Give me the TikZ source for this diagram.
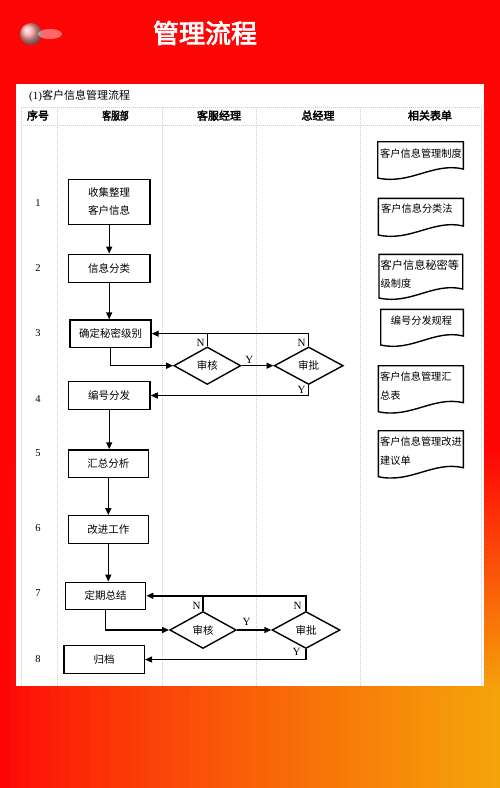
\documentclass[tikz,border=0pt]{standalone}
\usepackage{fontspec}
\setmainfont{Liberation Serif}
\newfontfamily\cjk{Noto Sans CJK SC}
\newfontfamily\cjkb[FakeBold=3]{Noto Sans CJK SC}
\usetikzlibrary{arrows.meta,shapes.geometric,calc}
\definecolor{bgred}{RGB}{254,6,6}
\definecolor{bgorange}{RGB}{245,163,10}
\definecolor{gridc}{RGB}{205,205,205}
\newcommand\mydoc[4]{%
  \draw[docline] (#1,#2) -- (#3,#2) -- (#3,#4-9)
    .. controls ({#3-0.35*(#3-#1)},#4-16) and ({#1+0.38*(#3-#1)},#4+7) .. (#1,#4) -- cycle;}
\begin{document}
\begin{tikzpicture}[x=1pt,y=-1pt,
  box/.style={draw, line width=1.4pt, inner sep=0pt, align=center, font=\cjk\fontsize{10.5}{18}\selectfont},
  dec/.style={draw, diamond, aspect=2, line width=1.4pt, inner sep=0pt, font=\cjk\fontsize{10.5}{13}\selectfont},
  conn/.style={line width=1.4pt},
  arr/.style={conn, -{Triangle[length=7pt,width=6pt]}},
  lbl/.style={inner sep=0pt, font=\fontsize{11}{12}\selectfont},
  gridl/.style={gridc, line width=0.6pt, dash pattern=on 1pt off 1pt},
  docline/.style={line width=1.4pt},
  doctext/.style={anchor=west, inner sep=0pt, font=\cjk\fontsize{10.2}{12}\selectfont},
  hdr/.style={inner sep=0pt, font=\cjkb\fontsize{11}{12}\selectfont},
  num/.style={inner sep=0pt, font=\fontsize{10.5}{12}\selectfont}]
\useasboundingbox (0,0) rectangle (500,788);
% background
\fill[bgred] (0,0) rectangle (500,788);
\foreach \i in {0,...,49} {
  \pgfmathsetmacro\p{100*(\i/49)^0.8}
  \colorlet{colc}{bgorange!\p!bgred}
  \shade[top color=bgred, bottom color=colc] (\i*10,450) rectangle ++(10.4,241);
  \fill[colc] (\i*10,690) rectangle ++(10.4,98);
}
% logo blob
\shade[ball color=red!35!white] (31,34) circle (11);
\fill[white, opacity=0.4] (50,34) ellipse (12 and 5);
% title
\node[text=white, font=\cjkb\fontsize{26}{30}\selectfont] (title) at (205,33) {管理流程};
% panel
\fill[white] (16,84) rectangle (484,686);
\node[anchor=west, inner sep=0pt, font=\fontsize{11}{13}\selectfont] (cap) at (29,96) {(1)\cjk 客户信息管理流程};
% grid
\draw[gridl] (21,107) -- (481,107);
\draw[gridl] (21,125) -- (481,125);
\foreach \gx in {21,57.5,162.5,256.5,360,481} \draw[gridl] (\gx,107) -- (\gx,686);
% headers
\node[hdr] (h1) at (38,115.5) {序号};
\node[hdr, xscale=0.8] (h2) at (115.5,115.5) {客服部};
\node[hdr] (h3) at (219,115.5) {客服经理};
\node[hdr] (h4) at (318,115.5) {总经理};
\node[hdr] (h5) at (430,115.5) {相关表单};
% row numbers
\node[num] (r1) at (38,203) {1};
\node[num] (r2) at (38,268) {2};
\node[num] (r3) at (38,333) {3};
\node[num] (r4) at (38,399) {4};
\node[num] (r5) at (38,453) {5};
\node[num] (r6) at (38,528) {6};
\node[num] (r7) at (38,593) {7};
\node[num] (r8) at (38,659) {8};
% process boxes
\node[box, minimum width=81.7pt, minimum height=45pt] (B1) at (109.2,201.8) {收集整理\\客户信息};
\node[box, minimum width=81.7pt, minimum height=28pt] (B2) at (109.2,268.3) {信息分类};
\node[box, minimum width=81pt, minimum height=27.3pt] (B3) at (110.5,333.7) {确定秘密级别};
\node[box, minimum width=81.7pt, minimum height=27.6pt] (B4) at (109.2,395.5) {编号分发};
\node[box, minimum width=80pt, minimum height=27.7pt] (B5) at (108.3,463.8) {汇总分析};
\node[box, minimum width=80pt, minimum height=27.6pt] (B6) at (108.3,529.5) {改进工作};
\node[box, minimum width=80pt, minimum height=27pt] (B7) at (105.7,595.8) {定期总结};
\node[box, minimum width=80.3pt, minimum height=27.6pt] (B8) at (104.2,659.5) {归档};
% decisions
\node[dec, minimum width=67pt, minimum height=37.5pt] (D1) at (207.3,365.7) {审核};
\node[dec, minimum width=69pt, minimum height=37.5pt] (D2) at (308.7,365.7) {审批};
\node[dec, minimum width=66.5pt, minimum height=37pt] (D3) at (203,630) {审核};
\node[dec, minimum width=68pt, minimum height=37pt] (D4) at (306,630) {审批};
% main flow
\draw[arr] (B1.south) -- (B2.north);
\draw[arr] (B2.south) -- (B2.south |- B3.north);
\draw[arr] (B4.south) -- (B4.south |- B5.north);
\draw[arr] (B5.south) -- (B6.north);
\draw[arr] (B6.south) -- (B6.south |- B7.north);
% row 3/4 loop
\draw[arr] (B3.south) |- (D1.west);
\draw[arr] (D1.east) -- (D2.west);
\draw[arr] (D2.north) |- (B3.east);
\draw[conn] (D1.north) -- (D1.north |- B3.east);
\draw[arr] (D2.south) |- (B4.east);
% row 7/8 loop
\draw[arr] (B7.south) |- (D3.west);
\draw[arr] (D3.east) -- (D4.west);
\draw[arr] (D4.north) |- (B7.east);
\draw[conn] (D3.north) -- (D3.north |- B7.east);
\draw[arr] (D4.south) |- (B8.east);
% labels
\node[lbl] (n1) at (200.7,342.7) {N};
\node[lbl] (n2) at (301.7,342.7) {N};
\node[lbl] (y1) at (249.3,359.5) {Y};
\node[lbl] (y2) at (301.7,389.5) {Y};
\node[lbl] (n3) at (196.7,606) {N};
\node[lbl] (n4) at (297.7,606) {N};
\node[lbl] (y3) at (246.7,621.5) {Y};
\node[lbl] (y4) at (296.7,652.3) {Y};
% documents
\mydoc{377.7}{141.7}{463.3}{178}
\node[doctext] (t1) at (380,153.5) {客户信息管理制度};
\mydoc{378.3}{198.3}{463.3}{235}
\node[doctext] (t2) at (381,208.5) {客户信息分类法};
\mydoc{379}{254.3}{462.7}{298}
\node[doctext, font=\cjk\fontsize{11.2}{13}\selectfont] (t3a) at (380.5,265.5) {客户信息秘密等};
\node[doctext] (t3b) at (380.5,283.5) {级制度};
\mydoc{380.7}{309.3}{463.3}{345}
\node[inner sep=0pt, font=\cjk\fontsize{10.2}{12}\selectfont] (t4) at (421.5,321) {编号分发规程};
\mydoc{378.3}{365.7}{463.3}{411.7}
\node[doctext] (t5a) at (380,377) {客户信息管理汇};
\node[doctext] (t5b) at (380,396) {总表};
\mydoc{378.3}{430.7}{463.3}{476.7}
\node[doctext] (t6a) at (380,441.5) {客户信息管理改进};
\node[doctext] (t6b) at (380,460.5) {建议单};
\end{tikzpicture}
\end{document}
